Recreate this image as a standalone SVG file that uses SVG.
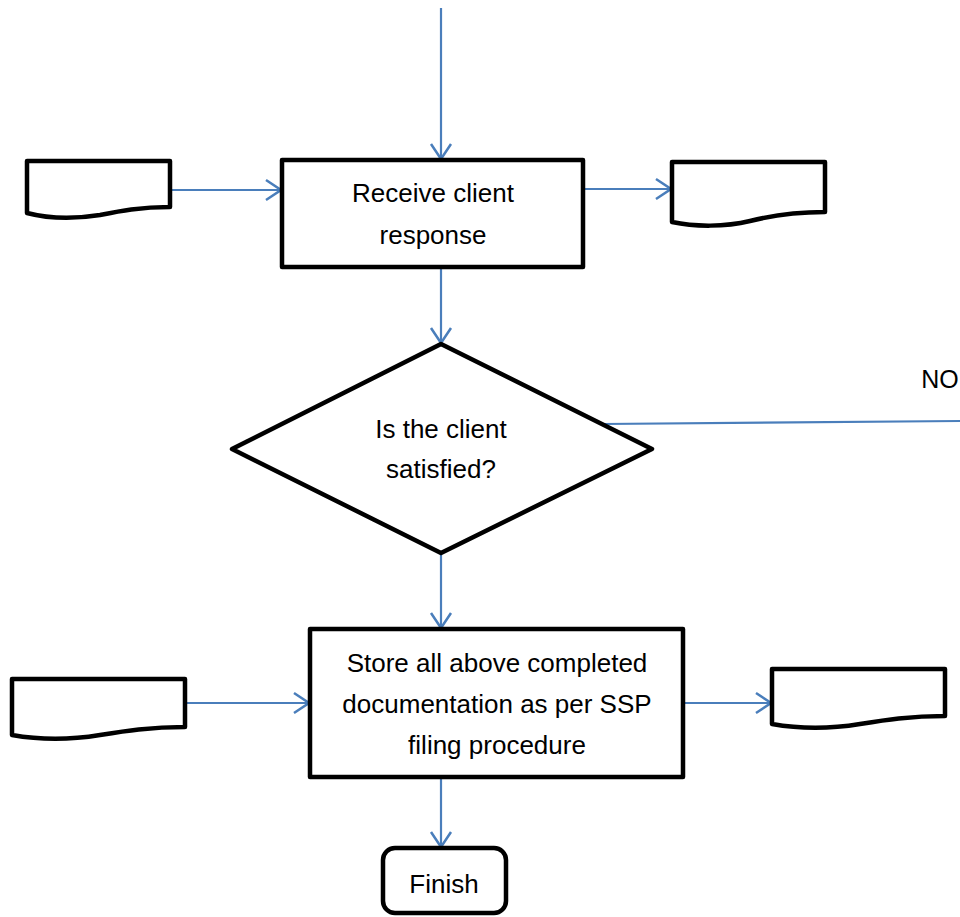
<svg xmlns="http://www.w3.org/2000/svg" width="960" height="917" viewBox="0 0 960 917">
<style>
.shape{fill:#fff;stroke:#000;stroke-width:4.5;stroke-linejoin:round}
.conn{fill:none;stroke:#4a7ebb;stroke-width:2.2}
.t{font-family:"Liberation Sans",Arial,sans-serif;font-size:26px;fill:#000;text-anchor:middle}
</style>
<defs>
<marker id="arr" markerUnits="userSpaceOnUse" viewBox="-18 -12 20 24" refX="0" refY="0" markerWidth="20" markerHeight="24" orient="auto">
<path d="M-15,-10 L0,0 L-15,10" fill="none" stroke="#4a7ebb" stroke-width="2.5"/>
</marker>
</defs>
<rect width="960" height="917" fill="#fff"/>
<g id="connectors">
<line class="conn" x1="441" y1="8" x2="441" y2="159" marker-end="url(#arr)"/>
<line class="conn" x1="170" y1="190" x2="281" y2="190" marker-end="url(#arr)"/>
<line class="conn" x1="583" y1="189" x2="671" y2="189" marker-end="url(#arr)"/>
<line class="conn" x1="441" y1="267" x2="441" y2="343" marker-end="url(#arr)"/>
<line class="conn" x1="603" y1="424" x2="960" y2="421"/>
<line class="conn" x1="441" y1="553" x2="441" y2="628" marker-end="url(#arr)"/>
<line class="conn" x1="185" y1="703" x2="309" y2="703" marker-end="url(#arr)"/>
<line class="conn" x1="683" y1="703" x2="771" y2="703" marker-end="url(#arr)"/>
<line class="conn" x1="441" y1="778" x2="441" y2="847" marker-end="url(#arr)"/>
</g>
<g id="doc1">
<path class="shape" d="M27,161 H170 V207 C140,207 120,211 100,215 C75,219 50,219 27,213 Z"/>
</g>
<g id="receive">
<rect class="shape" x="282" y="160" width="301" height="107"/>
<text class="t" x="433" y="202">Receive client</text>
<text class="t" x="433" y="244">response</text>
</g>
<g id="doc2">
<path class="shape" d="M672,162 H825 V212 C795,212 770,216 750,221 C725,227 695,227 672,222 Z"/>
</g>
<g id="decision">
<polygon class="shape" points="441,344 652,449 441,553 232,449"/>
<text class="t" x="441" y="438">Is the client</text>
<text class="t" x="441" y="478">satisfied?</text>
</g>
<g id="nolabel">
<text class="t" x="940" y="388" style="font-size:25px">NO</text>
</g>
<g id="doc3">
<path class="shape" d="M12,679 H185 V727 C150,727 125,731 100,735 C70,740 40,740 12,735 Z"/>
</g>
<g id="store">
<rect class="shape" x="310" y="629" width="373" height="148"/>
<text class="t" x="497" y="672">Store all above completed</text>
<text class="t" x="497" y="713">documentation as per SSP</text>
<text class="t" x="497" y="754">filing procedure</text>
</g>
<g id="doc4">
<path class="shape" d="M772,669 H945 V716 C910,716 885,720 860,724 C830,729 800,729 772,724 Z"/>
</g>
<g id="finish">
<rect class="shape" x="383" y="848" width="123" height="65" rx="12"/>
<text class="t" x="444" y="893">Finish</text>
</g>
</svg>
